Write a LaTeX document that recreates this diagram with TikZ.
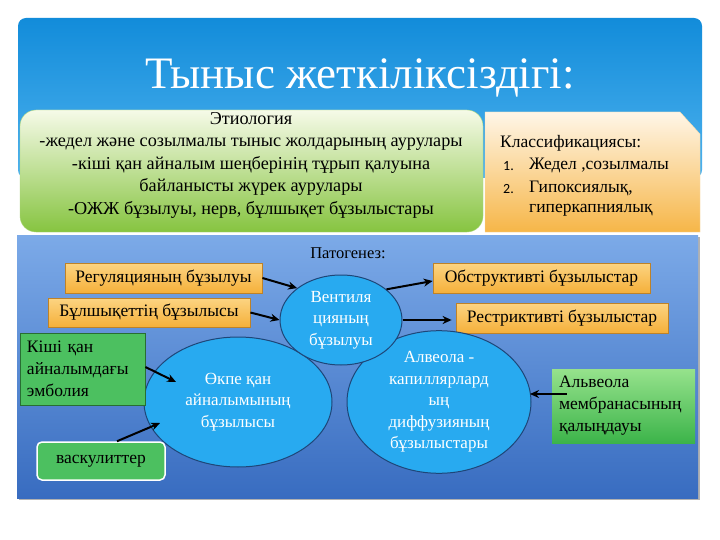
\documentclass[tikz,border=0pt]{standalone}
\usepackage{fontspec}
\setmainfont{Liberation Serif}
\newfontfamily\numfont{Carlito}
\usetikzlibrary{shapes.geometric,arrows.meta,calc}
\definecolor{toptop}{RGB}{18,140,218}
\definecolor{topbot}{RGB}{78,178,238}
\definecolor{gtop}{RGB}{246,250,232}
\definecolor{gbot}{RGB}{134,196,64}
\definecolor{gline}{RGB}{170,214,120}
\definecolor{ortop}{RGB}{255,246,232}
\definecolor{orbot}{RGB}{246,182,72}
\definecolor{ptop}{RGB}{124,170,232}
\definecolor{pbot}{RGB}{56,108,192}
\definecolor{otop}{RGB}{252,212,130}
\definecolor{obot}{RGB}{245,176,58}
\definecolor{oborder}{RGB}{190,130,40}
\definecolor{cfill}{RGB}{40,170,240}
\definecolor{cborder}{RGB}{30,70,120}
\definecolor{gfill}{RGB}{76,192,96}
\definecolor{gborder}{RGB}{40,110,50}
\definecolor{gltop}{RGB}{150,226,140}
\definecolor{glbot}{RGB}{60,180,74}
\begin{document}
\begin{tikzpicture}[x=1pt,y=-1pt,
  arr/.style={line width=2pt,black,-{Stealth[length=9pt,width=8pt]}},
  obox/.style={rectangle,draw=oborder,line width=0.8pt,top color=otop,bottom color=obot,
    font=\fontsize{17.5}{20}\selectfont,text=black,inner sep=0pt},
  circ/.style={ellipse,draw=cborder,line width=1pt,fill=cfill,text=white,align=center,
    font=\fontsize{17}{21.5}\selectfont,inner sep=0pt},
  gbox/.style={rectangle,draw=gborder,line width=0.8pt,fill=gfill,align=left,
    font=\fontsize{17.5}{22}\selectfont,text=black,inner xsep=7pt,inner ysep=0pt},
  lbl/.style={inner sep=0pt,text=black,font=\fontsize{17.5}{22}\selectfont}]
\useasboundingbox (0,0) rectangle (720,540);
\fill[white] (0,0) rectangle (720,540);
% top panel
\shade[top color=toptop,bottom color=topbot,rounded corners=8pt] (18,18) rectangle (702,178);
\node[text=white,font=\fontsize{45}{50}\selectfont,inner sep=0pt] (title) at (360,78) {Тыныс жеткіліксіздігі:};
% etiology box
\shade[top color=gtop,bottom color=gbot,rounded corners=16pt,draw=gline] (20,110) rectangle (483,232);
\node[lbl,align=center,font=\fontsize{18.2}{22.5}\selectfont] (etio) at (251,165) {Этиология\\-жедел және созылмалы тыныс жолдарының аурулары\\-кіші қан айналым шеңберінің тұрып қалуына\\байланысты жүрек аурулары\\-ОЖЖ бұзылуы, нерв, бұлшықет бұзылыстары};
% classification box
\shade[top color=ortop,bottom color=orbot,draw=ortop!60!orbot] (485,112) -- (680,112) -- (700,134) -- (700,232) -- (485,232) -- cycle;
\node[lbl,anchor=west] (cls) at (500,143) {Классификациясы:};
\node[inner sep=0pt,anchor=west,font=\numfont\fontsize{14}{16}\selectfont] (n1) at (503,166) {1.};
\node[lbl,anchor=west] (c1) at (529,165) {Жедел ,созылмалы};
\node[inner sep=0pt,anchor=west,font=\numfont\fontsize{14}{16}\selectfont] (n2) at (503,189) {2.};
\node[lbl,anchor=west] (c2) at (529,188) {Гипоксиялық,};
\node[lbl,anchor=west] (c3) at (529,210) {гиперкапниялық};
% pathogenesis panel
\fill[black!30] (19,237) rectangle (700,500);
\shade[top color=ptop,bottom color=pbot] (17,235) rectangle (698,498);
\node[lbl,font=\fontsize{16.5}{20}\selectfont] (pat) at (348,253) {Патогенез:};
% orange boxes
\node[obox,minimum width=197pt,minimum height=30pt] (reg) at (163.5,278) {Регуляцияның бұзылуы};
\node[obox,minimum width=202pt,minimum height=29pt] (bul) at (149,312.5) {Бұлшықеттің бұзылысы};
\node[obox,minimum width=217pt,minimum height=30pt] (obs) at (541.5,278) {Обструктивті бұзылыстар};
\node[obox,minimum width=212pt,minimum height=30pt] (res) at (562,318) {Рестриктивті бұзылыстар};
% circles
\node[circ,minimum width=188pt,minimum height=130pt] (okpe) at (238,402) {Өкпе қан\\айналымының\\бұзылысы};
\node[circ,minimum width=184pt,minimum height=130pt] (alv) at (439,402) {Алвеола -\\капиллярлард\\ың\\диффузияның\\бұзылыстары};
\node[circ,minimum width=122pt,minimum height=90pt] (vent) at (341,320) {Вентиля\\цияның\\бұзылуы};
% green boxes
\node[gbox,text width=111pt,minimum height=72pt] (kis) at (82.5,369) {Кіші қан\\айналымдағы\\эмболия};
\node[rectangle,rounded corners=5pt,draw=white,line width=1.5pt,fill=gfill,minimum width=128pt,minimum height=38pt,inner sep=0pt,
  font=\fontsize{17.5}{22}\selectfont] (vas) at (101,461) {васкулиттер};
\node[gbox,draw=none,top color=gltop,bottom color=glbot,text width=129pt,minimum height=74pt] (alm) at (623.5,406) {Альвеола\\мембранасының\\қалыңдауы};
% arrows
\draw[arr] (reg.east) -- (vent.144);
\draw[arr] (bul.east) -- (vent.west);
\draw[arr] (vent.34) -- ([yshift=-3pt]obs.west);
\draw[arr,shorten >=4pt] (vent.east) -- (vent.east -| res.west);
\draw[arr] ([yshift=2pt]kis.east) -- ($(okpe.center)+(-62,-20)$);
\draw[arr] ([xshift=16pt]vas.north) -- ($(okpe.center)+(-78,21)$);
\draw[arr] ($(alm.west)+(15,-12)$) -- ($(alv.center)+(91,-8)$);
\end{tikzpicture}
\end{document}
